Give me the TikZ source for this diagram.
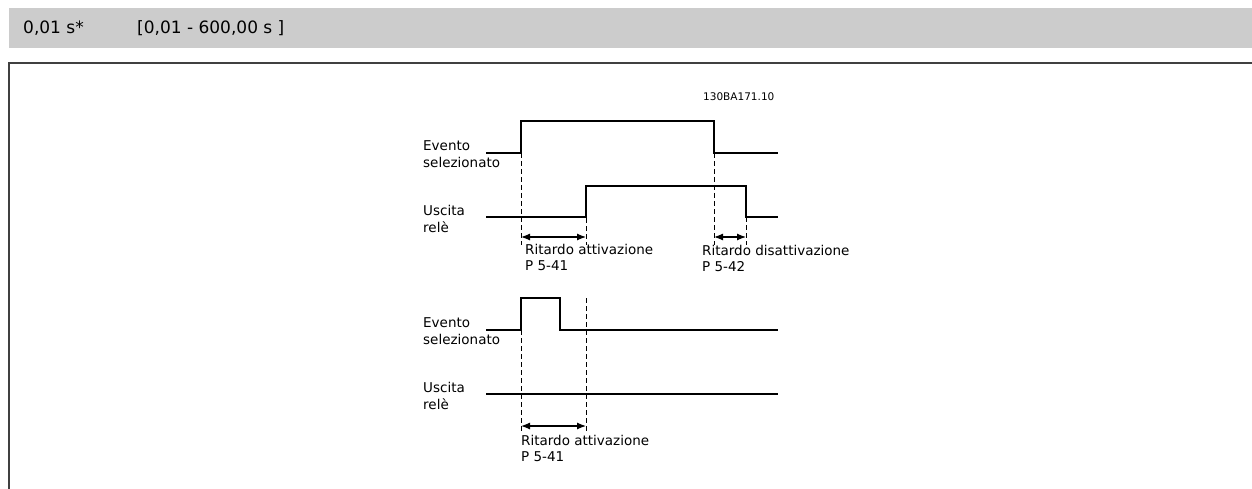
\documentclass[tikz,border=0pt]{standalone}
\usepackage{fontspec}
\setmainfont{DejaVu Sans}
\usetikzlibrary{arrows.meta}
\definecolor{HeadClr}{rgb}{0.8,0.8,0.8}
\definecolor{FrameClr}{rgb}{0.25,0.25,0.25}

\begin{document}
\begin{tikzpicture}[x=1pt,y=-1pt,
  signal/.style={line width=1.2pt,color=black},
  guide/.style={line width=0.9pt,color=black,dash pattern=on 5pt off 3pt},
  delay/.style={line width=1.2pt,{Latex[length=9pt,width=7pt]}-{Latex[length=9pt,width=7pt]}},
  lbl/.style={font=\fontsize{13.5}{17}\selectfont,align=left,anchor=west,inner sep=0pt},
  dlbl/.style={font=\fontsize{13.5}{16}\selectfont,align=left,anchor=north west,inner sep=0pt},
  head/.style={font=\fontsize{17}{20}\selectfont,anchor=west,inner sep=0pt}]
\useasboundingbox (0,0) rectangle (1252,489);

% header bar and frame
\fill[HeadClr] (9,8) rectangle (1252,48);
\node[head] (def) at (23,28) {0,01 s*};
\node[head] (rng) at (137,28) {[0,01 - 600,00 s ]};
\draw[FrameClr,line width=1.5pt] (9,489) -- (9,63) -- (1252,63);

\node[inner sep=0pt,anchor=west,font=\fontsize{10.5}{12}\selectfont] (code) at (703,97) {130BA171.10};

% upper diagram
\coordinate (evOn) at (521,121);
\coordinate (evOff) at (714,153);
\coordinate (reOn) at (586,186);
\coordinate (reOff) at (746,217);
\coordinate (guEnd) at (0,245);
\coordinate (arr) at (0,237);

\draw[signal] (486,153) -- (521,153) -- (evOn) -- (714,121) -- (evOff) -- (778,153);
\draw[signal] (486,217) -- (586,217) -- (reOn) -- (746,186) -- (reOff) -- (778,217);

\draw[guide] (evOn) -- (evOn |- guEnd);
\draw[guide] (reOn) -- (reOn |- guEnd);
\draw[guide] (evOff) -- (evOff |- guEnd);
\draw[guide] (reOff) -- (reOff |- guEnd);

\draw[delay] (evOn |- arr) -- (reOn |- arr);
\draw[delay] (evOff |- arr) -- (reOff |- arr);

\node[lbl] (ev1) at (423,154) {Evento\\selezionato};
\node[lbl] (re1) at (423,219) {Uscita\\relè};
\node[dlbl] (on1) at (525,244.5) {Ritardo attivazione\\P 5-41};
\node[dlbl] (off1) at (702,245) {Ritardo disattivazione\\P 5-42};

% lower diagram
\coordinate (puOn) at (521,298);
\coordinate (puOff) at (560,330);
\coordinate (puDel) at (586,298);
\coordinate (guEndB) at (0,432);
\coordinate (arrB) at (0,426);

\draw[signal] (486,330) -- (521,330) -- (puOn) -- (560,298) -- (puOff) -- (778,330);
\draw[signal] (486,394) -- (778,394);

\draw[guide] (puOn) -- (puOn |- guEndB);
\draw[guide] (puDel) -- (puDel |- guEndB);
\draw[delay] (puOn |- arrB) -- (puDel |- arrB);

\node[lbl] (ev2) at (423,331) {Evento\\selezionato};
\node[lbl] (re2) at (423,396) {Uscita\\relè};
\node[dlbl] (on2) at (521,435) {Ritardo attivazione\\P 5-41};

\end{tikzpicture}
\end{document}
